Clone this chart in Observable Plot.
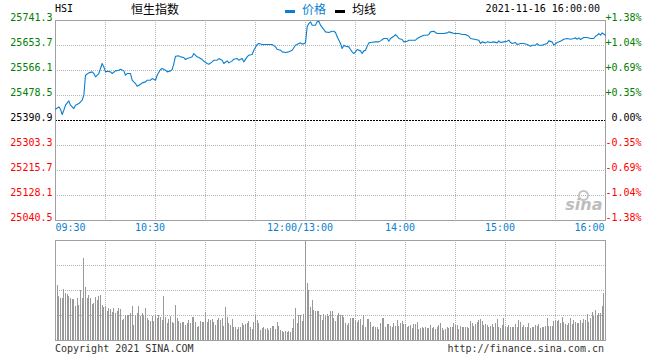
<!DOCTYPE html>
<html><head><meta charset="utf-8">
<script src="https://cdn.jsdelivr.net/npm/d3@7"></script>
<script src="https://cdn.jsdelivr.net/npm/@observablehq/plot@0.6"></script>
<style>
body{margin:0;background:#fff;}
#wrap{position:relative;width:660px;height:360px;overflow:hidden;background:#fff;}
.t{position:absolute;white-space:nowrap;font-family:"DejaVu Sans Mono",monospace;font-size:10px;line-height:10px;color:#000;}
.cjk{position:absolute;white-space:nowrap;font-family:"Noto Sans CJK SC",sans-serif;font-size:12px;line-height:12px;}
.sw{position:absolute;width:10px;height:3px;}
#p1,#p2{position:absolute;left:0;}
</style></head><body>
<div id="wrap">
  <div id="p1" style="top:0"></div>
  <div id="p2" style="top:236px"></div>
  <span class="t" style="left:55px;top:4px">HSI</span>
  <span class="cjk" style="left:131px;top:3px;color:#000">恒生指数</span>
  <div class="sw" style="left:285px;top:10px;background:#0a7fd0"></div>
  <span class="cjk" style="left:302px;top:3px;color:#0a7fd0">价格</span>
  <div class="sw" style="left:335px;top:10px;background:#000"></div>
  <span class="cjk" style="left:352px;top:3px;color:#000">均线</span>
  <span class="t" style="right:60px;top:4px">2021-11-16 16:00:00</span>
  <span class="t" style="left:55px;top:344px;color:#333">Copyright 2021 SINA.COM</span>
  <span class="t" style="right:56px;top:344px;color:#333">http://finance.sina.com.cn</span>
</div>
<script>
// ---- data ----
const base = 25390.9;
const yTicks = [25040.5, 25128.1, 25215.7, 25303.3, 25390.9, 25478.5, 25566.1, 25653.7, 25741.3];
const pctLabels = ["-1.38%", "-1.04%", "-0.69%", "-0.35%", "0.00%", "+0.35%", "+0.69%", "+1.04%", "+1.38%"];
const timeTicks = ["09:30", "10:30", "12:00/13:00", "14:00", "15:00", "16:00"];
const times = ["09:30","09:32","09:33","09:34","09:35","09:36","09:38","09:39","09:41","09:42","09:44","09:46","09:47","09:48","09:50","09:52","09:53","09:54","09:56","09:57","09:58","09:59",
"10:00","10:01","10:03","10:04","10:06","10:08","10:09","10:11","10:12","10:13","10:15","10:16","10:17","10:18","10:19","10:21","10:22","10:24","10:25","10:27","10:28","10:30","10:31","10:33","10:34","10:36","10:37","10:39","10:40","10:41","10:42","10:44","10:45","10:47","10:48","10:49","10:51","10:52","10:53","10:55","10:56","10:58","10:59",
"11:01","11:02","11:04","11:05","11:07","11:08","11:10","11:11","11:13","11:14","11:16","11:17","11:19","11:20","11:22","11:23","11:25","11:26","11:28","11:29","11:31","11:32","11:34","11:36","11:38","11:40","11:42","11:43","11:45","11:46","11:48","11:50","11:52","11:54","11:56","11:57","11:58","12:00",
"13:01","13:02","13:03","13:04","13:06","13:07","13:08","13:09","13:11","13:12","13:14","13:16","13:17","13:18","13:19","13:21","13:22","13:23","13:24","13:26","13:27","13:28","13:29","13:30","13:31","13:33","13:34","13:35","13:36","13:37","13:38","13:40","13:42","13:44","13:45","13:47","13:49","13:50","13:51","13:53","13:54","13:55","13:56","13:58","13:59",
"14:01","14:02","14:04","14:06","14:07","14:09","14:11","14:13","14:14","14:15","14:17","14:18","14:19","14:20","14:22","14:23","14:25","14:26","14:28","14:29","14:32","14:34","14:36","14:38","14:39","14:42","14:44","14:45","14:46","14:48","14:49","14:51","14:53","14:55","14:56","14:57","14:59",
"15:01","15:02","15:03","15:04","15:06","15:07","15:09","15:11","15:13","15:15","15:16","15:18","15:19","15:20","15:22","15:23","15:25","15:26","15:28","15:29","15:31","15:33","15:35","15:37","15:39","15:41","15:42","15:43","15:44","15:45","15:47","15:49","15:51","15:53","15:54","15:55","15:56","15:57","15:58","16:00"];
const prices = [25430.5,25438.7,25430.5,25411.8,25427.0,25444.5,25459.7,25444.5,25432.8,25444.5,25450.4,25462.0,25479.6,25549.6,25557.8,25561.3,25555.5,25543.8,25555.5,25573.0,25590.5,25578.8,
25561.3,25563.7,25561.3,25555.5,25564.8,25567.2,25570.7,25564.8,25549.6,25555.5,25555.5,25532.1,25526.3,25520.4,25511.1,25518.1,25522.8,25526.3,25532.1,25532.1,25538.0,25532.1,25549.6,25569.5,25573.0,25567.2,25561.3,25564.8,25569.5,25590.5,25616.2,25617.4,25613.9,25611.5,25604.5,25608.0,25611.5,25613.9,25625.6,25613.9,25611.5,25604.5,25598.7,
25590.5,25588.2,25596.4,25602.2,25602.2,25608.0,25602.2,25590.5,25599.9,25592.9,25599.9,25605.7,25608.0,25602.2,25608.0,25596.4,25613.9,25619.7,25622.1,25637.2,25657.1,25660.6,25657.1,25657.1,25657.1,25657.1,25648.9,25640.7,25637.2,25631.4,25629.1,25631.4,25637.2,25654.8,25660.6,25662.9,25658.3,25662.9,
25719.0,25730.7,25736.5,25724.8,25724.8,25736.5,25738.9,25724.8,25709.6,25701.5,25699.1,25703.8,25703.8,25699.1,25684.0,25660.6,25643.1,25654.8,25651.3,25648.9,25639.6,25631.4,25625.6,25631.4,25639.6,25634.9,25625.6,25634.9,25637.2,25651.3,25662.9,25665.3,25666.4,25666.4,25669.9,25678.1,25678.1,25668.8,25678.1,25686.3,25692.1,25686.3,25678.1,25674.6,25666.4,
25668.8,25672.3,25672.3,25672.3,25678.1,25684.0,25689.8,25689.8,25692.1,25701.5,25703.8,25699.1,25695.6,25695.6,25695.6,25695.6,25698.0,25701.5,25698.0,25695.6,25695.6,25692.1,25692.1,25686.3,25678.1,25674.6,25672.3,25660.6,25666.4,25662.9,25666.4,25664.1,25666.4,25662.9,25669.9,25664.1,25666.4,
25668.8,25672.3,25664.1,25660.6,25664.1,25657.1,25660.6,25660.6,25657.1,25651.3,25654.8,25654.8,25660.6,25654.8,25654.8,25657.1,25660.6,25669.9,25666.4,25654.8,25664.1,25668.8,25675.8,25678.1,25675.8,25678.1,25680.4,25675.8,25680.4,25674.6,25681.6,25681.6,25678.1,25678.1,25686.3,25689.8,25695.6,25689.8,25698.0,25689.8];
// volume per trading minute, starting with minute 1 (09:31); relative units (panel top = 100)
const volume = [55,44,42,42,51,47,46,44,42,41,41,34,42,35,50,42,82,53,42,45,42,36,37,43,40,44,45,35,33,34,
29,32,31,28,32,27,29,32,31,20,21,25,25,25,27,34,15,25,27,34,24,27,25,32,22,20,19,24,19,25,
22,25,23,20,44,23,17,21,24,18,17,35,22,19,17,18,18,15,17,20,17,23,23,18,13,14,19,18,18,28,
18,21,20,21,18,15,20,22,20,22,14,33,23,17,15,21,13,13,11,13,13,17,15,16,17,19,13,11,18,25,
20,17,10,12,13,11,12,10,12,14,14,11,18,14,10,9,8,9,8,9,8,12,21,32,17,25,25,19,26,99,
57,50,33,40,30,29,29,29,25,20,26,24,26,24,29,29,22,19,25,27,25,25,23,17,15,17,22,22,22,20,
18,20,21,15,25,13,21,21,18,13,14,13,13,11,17,22,22,13,16,16,14,13,17,14,20,14,17,19,16,16,
13,14,15,12,16,16,18,11,12,13,12,13,12,12,15,12,13,11,13,15,17,12,10,11,13,12,13,13,17,15,
15,11,14,13,13,13,13,12,19,17,14,16,18,20,21,19,15,16,15,13,14,16,13,17,21,13,12,15,22,13,
13,15,13,13,13,16,13,20,18,13,15,13,13,17,12,13,13,15,14,16,12,13,13,14,22,14,14,14,19,20,
19,20,17,23,18,16,15,17,22,16,20,18,17,17,20,17,21,20,26,18,22,28,24,30,25,27,27,34,47];

// ---- helpers ----
const minuteOf = t => {
  const [h, m] = t.slice(0, 5).split(":").map(Number);
  const v = h * 60 + m;
  return v <= 720 ? v - 570 : v - 780 + 150;
};
const blue = "#0a7fd0";
const gridStyle = {stroke: "#b4b4b4", strokeDasharray: "1,1"};
const gridX = d3.range(30, 330, 30);
const priceData = times.map((t, i) => ({x: minuteOf(t), y: prices[i]}));
const volData = volume.map((v, i) => ({x: i + 1, v}));
const labelColor = d => d > base ? "#008000" : d < base ? "#ff0000" : "#000000";
const font = {fontFamily: "DejaVu Sans Mono, monospace", fontSize: "10px", background: "transparent", overflow: "visible"};

const p1 = Plot.plot({
  width: 660, height: 235,
  marginTop: 20, marginLeft: 55, marginRight: 55, marginBottom: 15,
  style: font,
  x: {domain: [0, 330], axis: null},
  y: {domain: [yTicks[0], yTicks[yTicks.length - 1]], axis: null},
  color: {type: "identity"},
  marks: [
    Plot.ruleX(gridX, gridStyle),
    Plot.ruleY(yTicks.slice(1, -1).filter(v => v !== base), gridStyle),
    Plot.ruleY([base], {stroke: "#000", strokeDasharray: "2,1"}),
    Plot.dot([0], {frameAnchor: "bottom-right", dx: -22, dy: -25, r: 4.5, stroke: "#c4c4c4", strokeWidth: 2, fill: "none"}),
    Plot.text(["sina"], {frameAnchor: "bottom-right", dx: -3, dy: -11, lineAnchor: "bottom", textAnchor: "end",
      fontStyle: "italic", fontWeight: "bold", fontSize: 16, fontFamily: "DejaVu Sans", fill: "#bdbdbd"}),
    Plot.frame({stroke: "#a0a0a0"}),
    Plot.line(priceData, {x: "x", y: "y", stroke: blue, strokeWidth: 1.1}),
    Plot.text(yTicks, {y: d => d, frameAnchor: "left", textAnchor: "end", lineAnchor: "bottom", dx: -3, dy: 0,
      text: d => d.toFixed(1), fill: labelColor}),
    Plot.text(yTicks, {y: d => d, frameAnchor: "right", textAnchor: "end", lineAnchor: "bottom", dx: 36, dy: 0,
      text: (d, i) => pctLabels[i], fill: labelColor}),
    Plot.text(timeTicks.slice(0, 1), {x: minuteOf, frameAnchor: "bottom", lineAnchor: "top", textAnchor: "start", dy: 3, fill: blue}),
    Plot.text(timeTicks.slice(1, -1), {x: minuteOf, frameAnchor: "bottom", lineAnchor: "top", textAnchor: "middle", dx: -5.5, dy: 3, fill: blue}),
    Plot.text(timeTicks.slice(-1), {x: minuteOf, frameAnchor: "bottom", lineAnchor: "top", textAnchor: "end", dx: -1, dy: 3, fill: blue})
  ]
});
document.getElementById("p1").appendChild(p1);

const p2 = Plot.plot({
  width: 660, height: 106,
  marginTop: 4, marginLeft: 55, marginRight: 55, marginBottom: 2,
  style: font,
  x: {domain: [0, 330], axis: null},
  y: {domain: [0, 100], axis: null},
  marks: [
    Plot.ruleX(gridX, gridStyle),
    Plot.ruleY([25, 50, 75], gridStyle),
    Plot.ruleX(volData, {x: "x", y: "v", stroke: "#999999", strokeWidth: 1, shapeRendering: "crispEdges"}),
    Plot.frame({stroke: "#a0a0a0"})
  ]
});
document.getElementById("p2").appendChild(p2);
</script>
</body></html>
